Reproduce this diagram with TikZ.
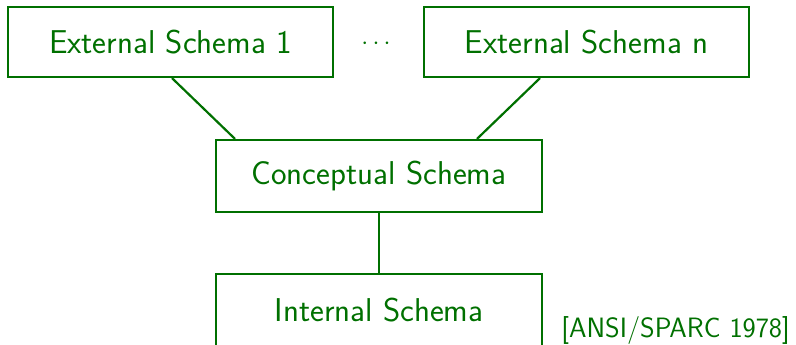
\documentclass[tikz,border=0pt]{standalone}
\definecolor{dg}{RGB}{0,112,0}
\begin{document}
\begin{tikzpicture}[x=1pt,y=-1pt,
  schema/.style={draw=dg,line width=2.2pt,text=dg,minimum width=325pt,minimum height=70pt,inner sep=0pt,font=\sffamily\fontsize{33}{40}\selectfont},
  link/.style={draw=dg,line width=2.2pt}]
\useasboundingbox (0,0) rectangle (796,345);
\node[schema] (e1) at (170.5,42) {External Schema 1};
\node[schema] (en) at (586.5,42) {External Schema n};
\node[text=dg,font=\fontsize{35}{40}\selectfont] (dots) at (376,44) {$\cdots$};
\node[schema,minimum width=326pt,minimum height=72pt] (cs) at (379,176) {Conceptual Schema};
\node[schema,minimum width=326pt,minimum height=72pt] (is) at (379,310) {Internal Schema};
\node[text=dg,inner sep=0pt,anchor=base east,font=\sffamily\fontsize{28}{33}\selectfont] (ref) at (790,337) {[ANSI/SPARC 1978]};
\draw[link] ([xshift=1.5pt]e1.south) -- ([xshift=-144pt]cs.north);
\draw[link] ([xshift=-46.5pt]en.south) -- ([xshift=98pt]cs.north);
\draw[link] (cs.south) -- (is.north);
\end{tikzpicture}
\end{document}
